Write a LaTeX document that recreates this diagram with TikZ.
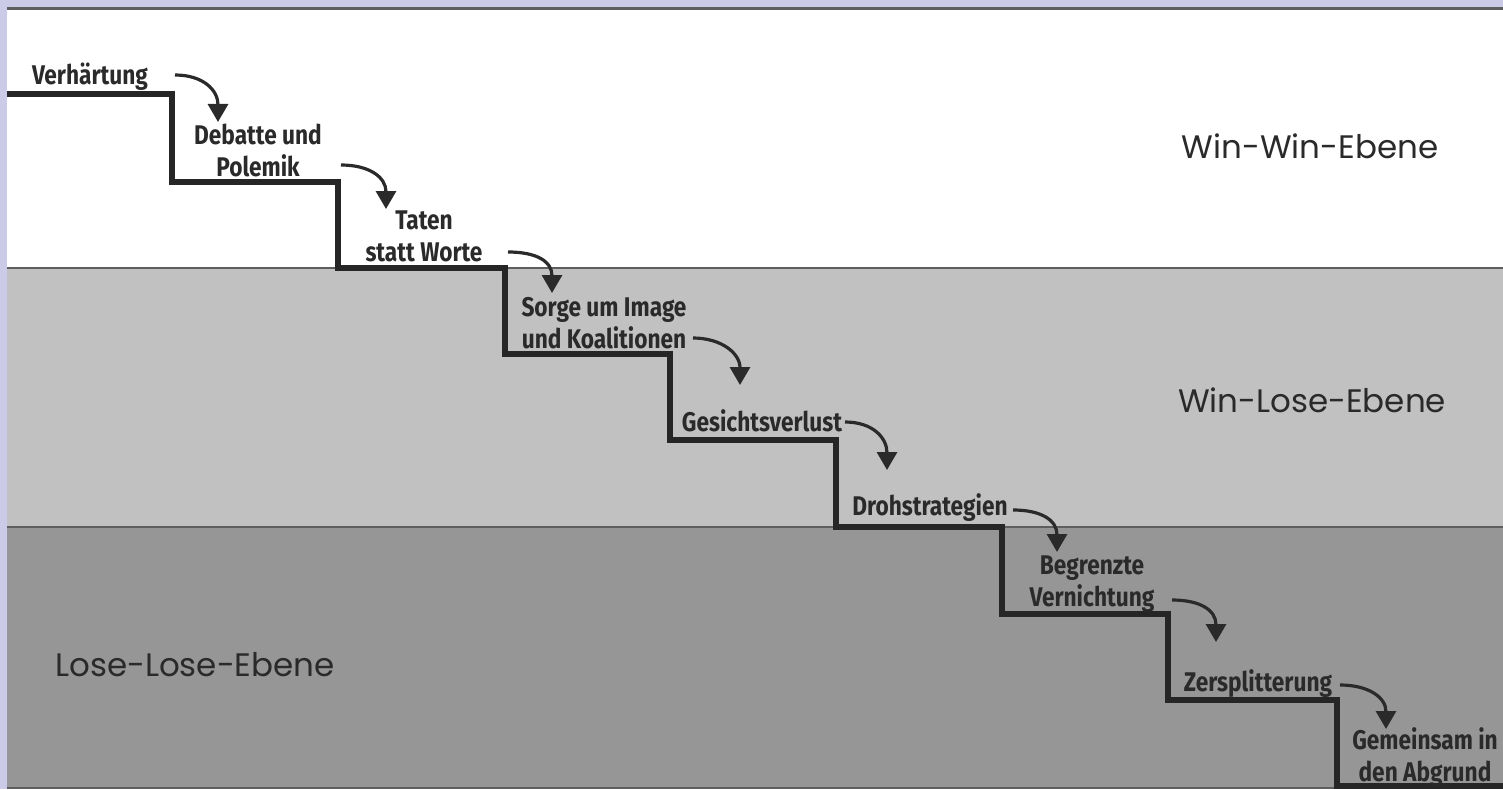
\documentclass[tikz,border=0pt]{standalone}
\usepackage{fontspec}
\usetikzlibrary{arrows.meta}
\newfontfamily\stepfont[FakeStretch=0.84]{Fira Sans}
\newfontfamily\levelfont{Poppins}
\definecolor{lav}{HTML}{CBCBE8}
\definecolor{bandA}{HTML}{FFFFFF}
\definecolor{bandB}{HTML}{C1C1C1}
\definecolor{bandC}{HTML}{969696}
\definecolor{rule}{HTML}{5E5E5E}
\definecolor{ink}{HTML}{2A2A2A}
\tikzset{
  stair/.style={line width=6.5pt, draw=ink!90!black, line join=miter},
  divider/.style={line width=2.5pt, draw=rule},
  steplabel/.style={font=\stepfont\bfseries\fontsize{27}{32}\selectfont, text=ink, align=center, inner sep=0pt},
  levellabel/.style={font=\levelfont\fontsize{32.5}{38}\selectfont, text=ink, inner sep=0pt},
  flow/.style={line width=3.2pt, draw=ink, -{Triangle[width=20pt,length=18pt]}}
}
\begin{document}
\begin{tikzpicture}[x=1pt,y=-1pt]
\useasboundingbox (0,0) rectangle (1503,789);
\fill[lav] (0,0) rectangle (1503,789);
\fill[bandA] (7,9) rectangle (1503,268);
\fill[bandB] (7,268) rectangle (1503,527);
\fill[bandC] (7,527) rectangle (1503,789);
\draw[divider] (7,8.5) -- (1503,8.5);
\draw[divider] (7,268) -- (1503,268);
\draw[divider] (7,527) -- (1503,527);
\draw[divider] (7,788) -- (1503,788);

% staircase
\draw[stair] (7,94) -| (172,182) -| (338,268) -| (505,354) -| (670,440) -| (836,527) -| (1002,614) -| (1168,700) -| (1337,786) -- (1503,786);

% level labels
\node[levellabel] (ww) at (1310,146) {Win-Win-Ebene};
\node[levellabel] (wl) at (1312,400) {Win-Lose-Ebene};
\node[levellabel] (ll) at (195,665) {Lose-Lose-Ebene};

% step labels
\node[steplabel] (l1) at (90,77) {Verhärtung};
\node[steplabel] (l2) at (258,150) {Debatte und\\Polemik};
\node[steplabel] (l3) at (424,236) {Taten\\statt Worte};
\node[steplabel] (l4) at (604,323) {Sorge um Image\\und Koalitionen};
\node[steplabel] (l5) at (762,421) {Gesichtsverlust};
\node[steplabel] (l6) at (930,508) {Drohstrategien};
\node[steplabel] (l7) at (1092,584) {Begrenzte\\Vernichtung};
\node[steplabel] (l8) at (1258,684) {Zersplitterung};
\node[steplabel] (l9) at (1425,758) {Gemeinsam in\\den Abgrund};

% arrow ends
\coordinate (s1) at (175,75);   \coordinate (t1) at (218,122);
\coordinate (s2) at (341,165);  \coordinate (t2) at (386,209);
\coordinate (s3) at (508,252);  \coordinate (t3) at (552,293);
\coordinate (s4) at (693,338);  \coordinate (t4) at (740,385);
\coordinate (s5) at (845,422);  \coordinate (t5) at (887,470);
\coordinate (s6) at (1013,510); \coordinate (t6) at (1057,552);
\coordinate (s7) at (1172,600); \coordinate (t7) at (1216,642);
\coordinate (s8) at (1340,685); \coordinate (t8) at (1386,729);

\foreach \i in {1,...,8}{
  \draw[flow] (s\i) .. controls +(28,0) and +(0,-32) .. (t\i);
}
\end{tikzpicture}
\end{document}
